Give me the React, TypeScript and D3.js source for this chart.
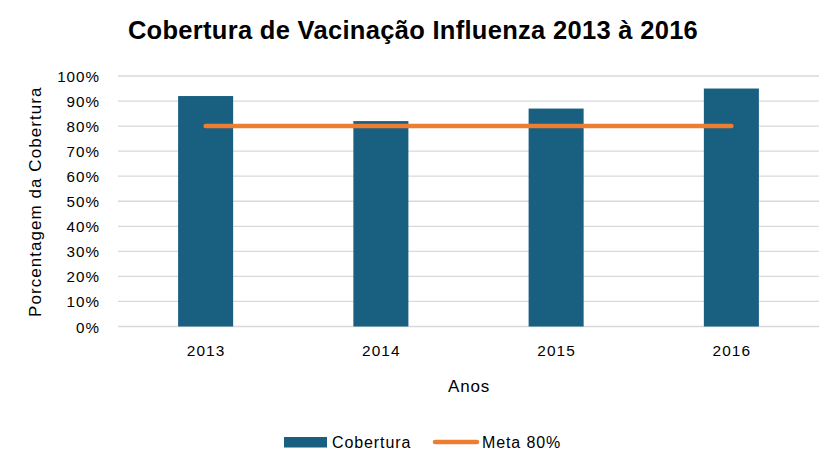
import React from "react";
import * as d3 from "d3";

const categories = ["2013", "2014", "2015", "2016"];
const coverage = [92, 82, 87, 95];
const target = [80, 80, 80, 80];
const yTicks = [0, 10, 20, 30, 40, 50, 60, 70, 80, 90, 100];

const W = 835;
const H = 470;
const left = 118;
const right = 819;
const top = 76;
const bottom = 326.5;
const FONT = "'Liberation Sans', Arial, sans-serif";

export default function App() {
  const x = d3.scaleBand<string>().domain(categories).range([left, right]).paddingInner(0.686).paddingOuter(0.343);
  const y = d3.scaleLinear().domain([0, 100]).range([bottom, top]);
  const line = d3
    .line<number>()
    .x((_, i) => (x(categories[i]) as number) + x.bandwidth() / 2)
    .y((d) => y(d));
  return (
    <div style={{ position: "absolute", left: 0, top: 0 }}>
      <svg width={W} height={H} style={{ display: "block", background: "#fff" }}>
        <text x={413} y={38.5} textAnchor="middle" fontFamily={FONT} fontWeight="bold" fontSize={25.5} letterSpacing={0.3} fill="#000">
          Cobertura de Vacinação Influenza 2013 à 2016
        </text>
        {yTicks.map((t) => (
          <g key={t}>
            <line x1={left} x2={right} y1={y(t)} y2={y(t)} stroke="#d9d9d9" strokeWidth={1.3} />
            <text x={100} y={y(t) + 6} textAnchor="end" fontFamily={FONT} fontSize={15.2} letterSpacing={1} fill="#000">
              {t}%
            </text>
          </g>
        ))}
        {categories.map((c, i) => (
          <g key={c}>
            <rect x={x(c)} y={y(coverage[i])} width={x.bandwidth()} height={bottom - y(coverage[i])} fill="#185F80" />
            <text x={(x(c) as number) + x.bandwidth() / 2 + 0.5} y={356} textAnchor="middle" fontFamily={FONT} fontSize={15.4} letterSpacing={1.1} fill="#000">
              {c}
            </text>
          </g>
        ))}
        <path d={line(target) || ""} fill="none" stroke="#ED7D31" strokeWidth={4.5} strokeLinecap="round" />
        <text transform={`translate(41,${(top + bottom) / 2 + 0.5}) rotate(-90)`} textAnchor="middle" fontFamily={FONT} fontSize={17} letterSpacing={1.05} fill="#000">
          Porcentagem da Cobertura
        </text>
        <text x={(left + right) / 2 + 0.5} y={391.5} textAnchor="middle" fontFamily={FONT} fontSize={17} letterSpacing={0.8} fill="#000">
          Anos
        </text>
        <rect x={284} y={437} width={43} height={10.5} fill="#185F80" />
        <text x={332} y={448.3} fontFamily={FONT} fontSize={16} letterSpacing={0.9} fill="#000">Cobertura</text>
        <line x1={435} x2={477} y1={442} y2={442} stroke="#ED7D31" strokeWidth={4.5} strokeLinecap="round" />
        <text x={482} y={448.3} fontFamily={FONT} fontSize={16} letterSpacing={0.9} fill="#000">Meta 80%</text>
      </svg>
    </div>
  );
}
